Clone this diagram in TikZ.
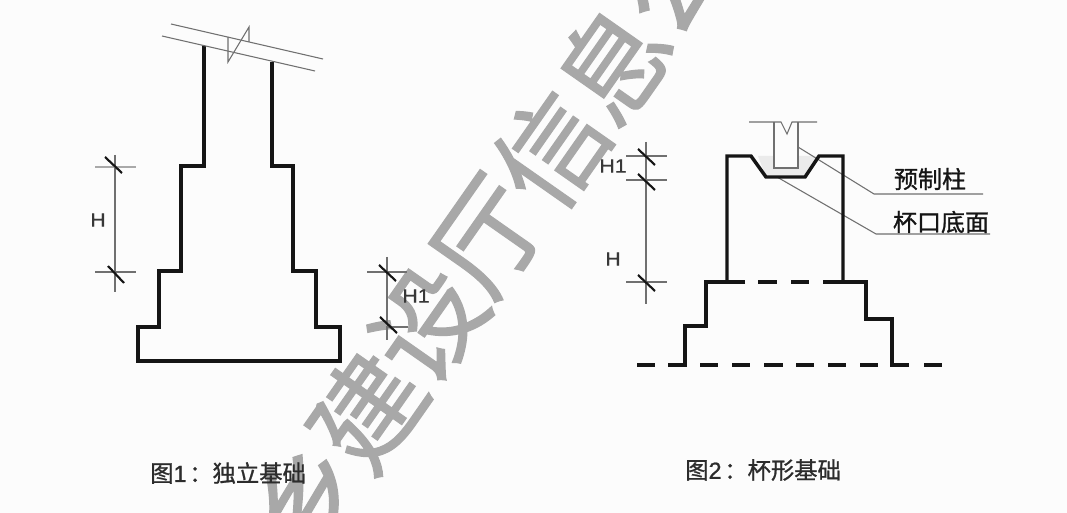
\documentclass[tikz,border=0pt]{standalone}
\usepackage{fontspec}
\setmainfont{Liberation Sans}
\newfontfamily\cjk[FakeBold=1.2]{Noto Sans CJK SC}
\newfontfamily\cjkm[FakeBold=1]{Noto Sans CJK SC}
\newfontfamily\dimf[FakeStretch=1.1,FakeBold=0.7]{Liberation Sans}
\newfontfamily\digf[FakeBold=1]{Liberation Sans}
\definecolor{wm}{HTML}{A8A8A8}
\definecolor{thinl}{HTML}{707070}
\definecolor{ink}{HTML}{151515}
\tikzset{
 outline/.style={line width=2.6pt,ink,line join=miter},
 thinline/.style={line width=0.8pt,thinl},
 tick/.style={line width=1.6pt,ink},
 wmchar/.style={font=\cjk\fontsize{82}{82}\selectfont,text=wm,rotate=55,inner sep=0,anchor=center},
 dimlabel/.style={font=\dimf\fontsize{14.5}{16}\selectfont,text=ink!85,inner sep=0},
 cnlabel/.style={font=\cjkm\fontsize{18}{19}\selectfont,text=ink,inner sep=0},
 caption/.style={font=\cjkm\fontsize{17.5}{19}\selectfont,text=ink!90,inner sep=0},
}
\begin{document}
\begin{tikzpicture}[x=0.75pt,y=-0.75pt]
\useasboundingbox (0,0) rectangle (1067,513);
\fill[white!99!black] (0,0) rectangle (1067,513);
% watermark
\begin{scope}
\clip (0,0) rectangle (1067,513);
\node[wmchar] (w1) at (306,498) {乡};
\node[wmchar] (w2) at (367,411) {建};
\node[wmchar] (w3) at (428,324) {设};
\node[wmchar] (w4) at (490,237) {厅};
\node[wmchar] (w5) at (551,150) {信};
\node[wmchar] (w6) at (612,63) {息};
\node[wmchar] (w7) at (673,-24) {公};
\end{scope}
% figure 1
\draw[outline] (204,46) |- (181,166) |- (159,271) |- (138,327) |- (340,361) |- (316,327) |- (293,271) |- (272,166) -- (272,62);
\draw[thinline] (171,24) -- (323,59);
\draw[thinline] (162,36) -- (315,71);
\draw[thinline] (228,37) -- (228,62) -- (249,27) -- (249,42);
\coordinate (a1) at (115,155); \coordinate (a2) at (115,292);
\draw[thinline] (a1) -- (a2);
\draw[thinline,line width=1pt,thinl!60] (95,167) -- (136,167);
\draw[thinline] (95,272) -- (136,272);
\draw[tick] (105,157) -- (122,173);
\draw[tick] (108,266) -- (124,283);
\node[dimlabel] (h) at (98,220) {H};
\draw[thinline] (387,257) -- (387,340);
\draw[thinline] (367,272) -- (407,272);
\draw[thinline] (387,327) -- (408,327);
\draw[line width=2pt,wm] (368,325) -- (387,325);
\draw[tick] (379,265) -- (396,281);
\draw[tick] (380,317) -- (397,333);
\node[dimlabel] (h1) at (416,296) {H1};
\node[caption,anchor=west] (c1) at (150,473) {图{\digf 1}\hspace{2pt}：独立基础};
% figure 2
\fill[black!8] (758,156) -- (766,177) -- (805,177) -- (817,156) -- (798,156) -- (798,168) -- (774,168) -- (774,156) -- cycle;
\draw[thinline] (749,122) -- (781,122) -- (787,134) -- (792,122) -- (817,122);
\draw[thinline] (774,122) -- (774,168) -- (798,168) -- (798,122);
\draw[thinline] (798,147) -- (874,194) -- (983,194);
\draw[thinline] (777,177) -- (876,234) -- (990,234);
\draw[outline] (727,282) -- (727,156) -- (751,156) -- (766,177) -- (805,177) -- (819,156) -- (843,156) -- (843,282);
\draw[outline] (745,282) -| (706,326) -| (685,365) -- (668,365);
\draw[outline] (823,282) -| (866,319) -| (892,365) -- (909,365);
\foreach \xa/\xb in {758/777,791/809} \draw[outline] (\xa,282) -- (\xb,282);
\foreach \xa/\xb in {637/655,700/718,732/750,764/783,796/814,828/846,860/878,924/942} \draw[outline] (\xa,365) -- (\xb,365);
\draw[thinline] (646,142) -- (646,304);
\draw[thinline] (626,156) -- (667,156);
\draw[thinline] (626,180) -- (667,180);
\draw[thinline] (626,282) -- (667,282);
\draw[tick] (638,149) -- (655,165);
\draw[tick] (638,174) -- (655,190);
\draw[tick] (638,275) -- (655,291);
\node[dimlabel] (h2) at (613,166) {H1};
\node[dimlabel] (h3) at (613,259) {H};
\node[cnlabel] (l1) at (930,179) {预制柱};
\node[cnlabel] (l2) at (941,222) {杯口底面};
\node[caption,anchor=west] (c2) at (685,470) {图{\digf 2}\hspace{2pt}：杯形基础};
\end{tikzpicture}
\end{document}
